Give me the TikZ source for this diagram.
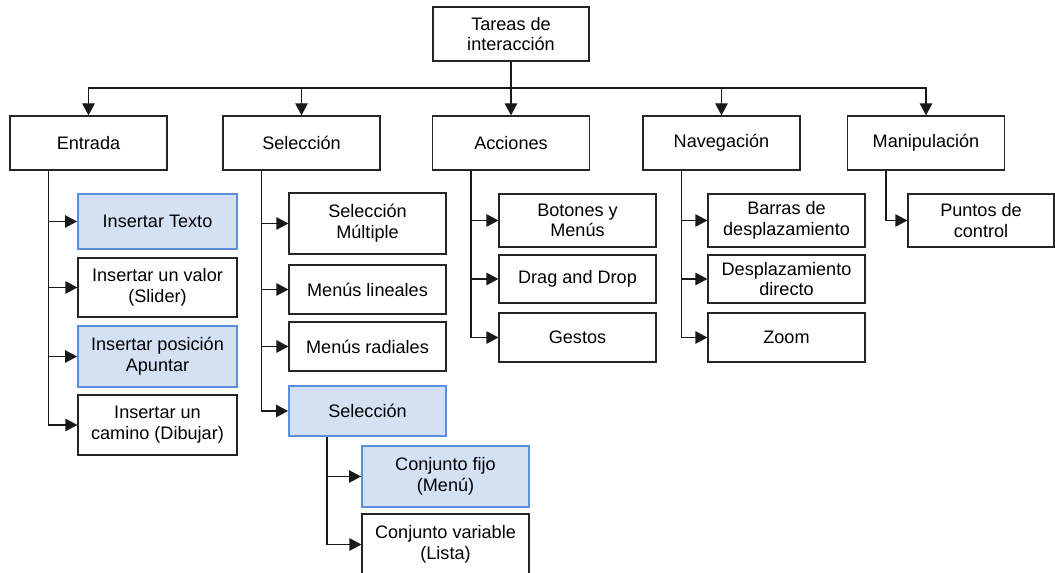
\documentclass[tikz,border=0pt]{standalone}
\usepackage{fontspec}
\setmainfont{Liberation Sans}
\usetikzlibrary{arrows.meta}

\definecolor{hiblue}{HTML}{5B8FDB}
\definecolor{hifill}{HTML}{D4E1F5}

\begin{document}
\begin{tikzpicture}[
  x=0.02cm, y=-0.02cm,
  font=\fontsize{10.3pt}{11.8pt}\selectfont,
  box/.style={draw=black!85, fill=white, line width=0.7pt, align=center, inner sep=0pt, minimum width=3.14cm, minimum height=1.08cm},
  hibox/.style={box, draw=hiblue, fill=hifill, line width=1.1pt},
  arrow/.style={-{Triangle[length=0.24cm,width=0.25cm]}, line width=0.7pt, draw=black!90}
]
\useasboundingbox (0,0) rectangle (1055,573);

% top levels
\node[box, minimum width=3.12cm] (root) at (511,34) {Tareas de\\interacción};
\node[box] (ent) at (88.5,143) {Entrada};
\node[box] (sel) at (301.5,143) {Selección};
\node[box] (acc) at (511,143) {Acciones};
\node[box] (nav) at (721.5,143) {Navegación};
\node[box] (man) at (926,143) {Manipulación};

% entrada
\node[hibox, minimum width=3.18cm, minimum height=1.10cm] (it1) at (157.5,221.5) {Insertar Texto};
\node[box, minimum width=3.18cm, minimum height=1.18cm] (it2) at (157.5,287.5) {Insertar un valor\\(Slider)};
\node[hibox, minimum width=3.18cm, minimum height=1.22cm] (it3) at (157.5,356.5) {Insertar posición\\Apuntar};
\node[box, minimum width=3.18cm, minimum height=1.20cm] (it4) at (157.5,425) {Insertar un\\camino (Dibujar)};

% seleccion
\node[box, minimum height=1.22cm] (sc1) at (367.5,223.5) {Selección\\Múltiple};
\node[box, minimum height=0.98cm] (sc2) at (367.5,289.5) {Menús lineales};
\node[box, minimum height=0.98cm] (sc3) at (367.5,346.5) {Menús radiales};
\node[hibox, minimum height=1.0cm] (sc4) at (367.5,411) {Selección};
\node[hibox, minimum width=3.34cm, minimum height=1.22cm] (cj1) at (445.5,476.5) {Conjunto fijo\\(Menú)};
\node[box, minimum width=3.34cm, minimum height=1.22cm] (cj2) at (445.5,544.5) {Conjunto variable\\(Lista)};

% acciones
\node[box, minimum height=1.06cm] (ac1) at (577.5,220.5) {Botones y\\Menús};
\node[box, minimum height=0.96cm] (ac2) at (577.5,279) {Drag and Drop};
\node[box, minimum height=0.98cm] (ac3) at (577.5,337.5) {Gestos};

% navegacion
\node[box, minimum height=1.06cm] (nv1) at (786.5,220.5) {Barras de\\desplazamiento};
\node[box, minimum height=0.96cm] (nv2) at (786.5,279) {Desplazamiento\\directo};
\node[box, minimum height=0.98cm] (nv3) at (786.5,337.5) {Zoom};

% manipulacion
\node[box, minimum width=2.92cm, minimum height=1.06cm] (mp1) at (981,220.5) {Puntos de\\control};

\coordinate (bar) at (511,88);
\draw[arrow] (root) -- (acc);
\foreach \n in {ent,sel,nav,man}
  \draw[arrow] (bar) -| (\n.north);

\foreach \p/\c in {ent/it1,ent/it2,ent/it3,ent/it4,
                   sel/sc1,sel/sc2,sel/sc3,sel/sc4,
                   sc4/cj1,sc4/cj2,
                   acc/ac1,acc/ac2,acc/ac3,
                   nav/nv1,nav/nv2,nav/nv3,
                   man/mp1}
  \draw[arrow] ([xshift=0.78cm]\p.south west) |- (\c.west);
\end{tikzpicture}
\end{document}
